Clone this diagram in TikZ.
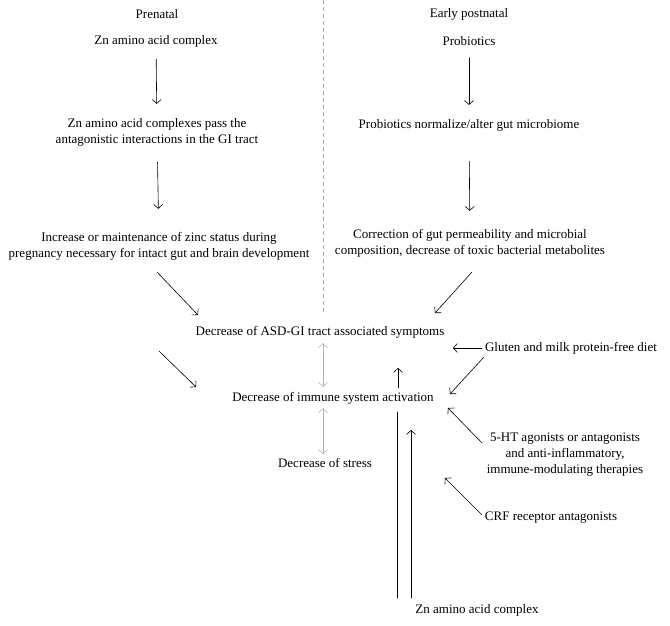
\documentclass[tikz,border=0pt]{standalone}
\usepackage{fontspec}
\setmainfont{Liberation Serif}
\usetikzlibrary{arrows.meta}
\begin{document}
\begin{tikzpicture}[x=1pt, y=-1pt, line join=round, line cap=round,
	>={Straight Barb[length=4pt, width=9pt]},
	font=\fontsize{13}{16}\selectfont,
	txt/.style={align=center, inner sep=0pt},
	flow/.style={->, line width=0.6pt},
	link/.style={<->, line width=0.6pt, gray!60}]
	\useasboundingbox (0,0) rectangle (670,626);
	% left column and right column
	\node[txt] (pren) at (157,14) {Prenatal};
	\node[txt] (znA) at (156,41) {Zn amino acid complex};
	\node[txt] (pass) at (157,132) {Zn amino acid complexes pass the\\antagonistic interactions in the GI tract};
	\node[txt] (incr) at (159,246) {Increase or maintenance of zinc status during\\pregnancy necessary for intact gut and brain development};
	\node[txt] (early) at (469,14) {Early postnatal};
	\node[txt] (probA) at (469,41) {Probiotics};
	\node[txt] (norm) at (469,125) {Probiotics normalize/alter gut microbiome};
	\node[txt] (corr) at (470,243) {Correction of gut permeability and microbial\\composition, decrease of toxic bacterial metabolites};
	% outcomes
	\node[txt] (asd) at (320,332) {Decrease of ASD-GI tract associated symptoms};
	\node[txt] (immune) at (333,398) {Decrease of immune system activation};
	\node[txt] (stress) at (325,463) {Decrease of stress};
	% therapies
	\node[txt] (gluten) at (571,348) {Gluten and milk protein-free diet};
	\node[txt] (ht) at (565,455) {5-HT agonists or antagonists\\and anti-inflammatory,\\immune-modulating therapies};
	\node[txt] (crf) at (551,518) {CRF receptor antagonists};
	\node[txt] (znB) at (477,610) {Zn amino acid complex};
	\path
	(157,272) coordinate (p1) (198,315) coordinate (p2)
	(159,351) coordinate (p3) (196,387) coordinate (p4)
	(472,272) coordinate (q1) (435,313) coordinate (q2)
	(484,357) coordinate (g1) (450,394) coordinate (g2)
	(482,443) coordinate (h1) (448,408) coordinate (h2)
	(482,515) coordinate (c1) (445,478) coordinate (c2)
	(398,388) coordinate (z0) (398,368) coordinate (z1)
	(397,598) coordinate (z3) (397,412) coordinate (z4)
	(411,598) coordinate (z5) (411,430) coordinate (z2)
	;
	\draw[gray!70, dash pattern=on 4pt off 3pt] (323,0) -- (323,313);
	\draw[flow, shorten <=12pt, shorten >=14pt] (znA) -- (pass);
	\draw[flow, shorten <=16pt, shorten >=23pt] (pass) -- (incr);
	\draw[flow, shorten <=12pt, shorten >=14pt] (probA) -- (norm);
	\draw[flow, shorten <=30pt, shorten >=18pt] (norm) -- (corr);
	\draw[flow] (p1) -- (p2);
	\draw[flow] (p3) -- (p4);
	\draw[flow] (q1) -- (q2);
	\draw[link, shorten <=5pt, shorten >=5pt] (asd.south -| 323,0) -- (immune.north -| 323,0);
	\draw[link, shorten <=4pt, shorten >=4pt] (immune.south -| 323,0) -- (stress.north -| 323,0);
	\draw[flow, shorten <=3pt, shorten >=3pt] (gluten.west) -- (gluten.west -| 450,0);
	\draw[flow] (g1) -- (g2);
	\draw[flow] (h1) -- (h2);
	\draw[flow] (c1) -- (c2);
	\draw[line width=0.6pt] (z3) -- (z4);
	\draw[flow] (z0) -- (z1);
	\draw[flow] (z5) -- (z2);
\end{tikzpicture}
\end{document}
